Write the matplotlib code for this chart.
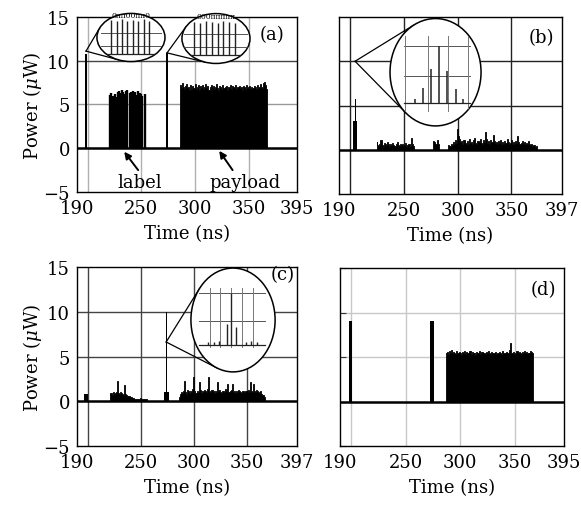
import matplotlib.pyplot as plt
import numpy as np
from matplotlib.patches import Ellipse

plt.rcParams['font.family'] = ['DejaVu Serif']
plt.rcParams['mathtext.fontset'] = 'dejavuserif'

# axis ticks
xticks_ac = [190, 250, 300, 350, 395]
xticks_bc = [190, 250, 300, 350, 397]
xgrid = [200, 250, 300, 350]
yticks = [-5, 0, 5, 10, 15]
ygrid = [5, 10]

# (a) input signal: pulses (start, end, height)
a_pulses = [(196.2, 196.8, 3.2), (197.4, 199.4, 10.8), (272.8, 275.0, 10.9)]
a_label_t0 = 221
a_label_h = [6.1, 6.3, 0, 6.0, 6.2, 5.8, 0, 6.4, 6.5, 0, 6.3, 6.6, 6.4, 0, 6.2, 6.5,
             6.6, 0, 6.3, 6.4, 0, 6.5, 6.2, 6.4, 0, 6.1, 6.5, 0, 6.3, 6.2, 6.0, 0, 6.2]
a_pay_t0 = 286
a_pay_h = [7.2, 6.9, 7.4, 7.0, 6.8, 7.1, 7.3, 6.9, 7.0, 6.7, 7.2, 6.8, 7.1, 6.9, 7.3, 6.8,
           7.0, 7.2, 6.7, 7.1, 6.9, 7.2, 6.8, 7.0, 7.3, 6.9, 7.1, 6.6, 7.0, 7.2, 6.9, 7.1,
           6.8, 7.0, 7.3, 6.9, 6.7, 7.1, 7.0, 6.8, 7.2, 6.9, 7.0, 7.1, 6.7, 7.0, 6.9, 7.2,
           6.8, 7.1, 7.0, 6.9, 7.2, 6.8, 7.0, 7.1, 6.9, 7.0, 6.7, 7.1, 7.0, 6.8, 7.2, 6.9,
           7.0, 7.1, 6.8, 7.0, 6.9, 7.1, 7.0, 6.8, 7.2, 6.9, 7.0, 7.3, 7.0, 6.9, 7.4, 7.6,
           7.2, 6.8]
a_in1_t = [222, 227, 232, 237, 242, 247, 252, 257]
a_in1_h = [14.7, 14.5, 14.8, 14.6, 14.7, 14.5, 14.8, 14.6]
a_in2_t = [299, 304.5, 310, 315.5, 321, 326.5, 332, 337.5]
a_in2_h = [14.4, 14.3, 14.5, 14.4, 14.3, 14.5, 14.4, 14.3]

# (b) output: pulses and residual noise
b_pulses = [(203.0, 207.0, 3.2), (204.5, 206.2, 5.7), (204.6, 204.9, 10.0)]
b_lab_t0 = 225
b_lab_h = [0.9, 0.5, 0.4, 0.6, 1.1, 0.5, 0.4, 0.8, 0.6, 0.5, 0.9, 0.7, 0.4, 0.6, 0.5, 0.8,
           0.5, 0.4, 0.6, 0.9, 0.5, 0.4, 0.7, 0.5, 0.6, 0.4, 0.5, 0.8, 0.4, 0.5, 0.6, 0.4,
           1.3, 0.6, 0.4, 0.3]
b_mid_t0 = 277
b_mid_h = [0.6, 1.0, 0.9, 0.7, 1.1, 0.6, 0.4]
b_pay_t0 = 291
b_pay_h = [0.3, 0.5, 0.4, 0.7, 0.5, 0.9, 0.6, 1.1, 0.8, 2.4, 1.6, 1.2, 0.9, 1.0, 0.7, 1.1,
           0.8, 0.6, 1.0, 0.7, 1.2, 0.8, 0.9, 0.6, 1.1, 1.3, 0.8, 0.7, 1.0, 0.9, 1.2, 0.8,
           0.6, 1.1, 0.9, 2.0, 1.2, 0.8, 1.0, 0.7, 1.1, 0.9, 1.7, 1.0, 0.8, 0.9, 0.6, 1.0,
           0.8, 1.1, 0.7, 0.9, 0.6, 1.0, 0.8, 1.2, 0.9, 0.7, 0.8, 1.1, 0.6, 0.9, 0.7, 1.0,
           0.8, 1.5, 0.9, 0.7, 0.8, 1.0, 0.6, 0.9, 0.7, 0.8, 0.6, 1.0, 0.7, 0.5, 0.6, 0.4,
           0.5, 0.3, 0.4, 0.2]
b_in_t = [260.6, 267.7, 275.1, 282.8, 290.6, 298.4, 305.4]
b_in_h = [5.7, 7.0, 9.1, 11.7, 8.9, 6.85, 5.7]

# (c) output
c_pulses = [(197.0, 200.0, 0.8), (271.5, 277.0, 1.0), (273.5, 274.5, 10.0)]
c_lab_t0 = 221
c_lab_h = [0.8, 0.9, 0.7, 1.0, 0.8, 0.9, 1.0, 2.3, 0.9, 0.8, 1.0, 0.9, 0.8, 0.7, 1.8, 0.8,
           0.7, 0.6, 0.6, 0.5, 0.5, 0.4, 0.4, 0.3, 0.3, 0.3, 0.2, 0.3, 0.3, 0.4, 0.3, 0.3,
           0.3, 0.2, 0.2, 0.1]
c_pay_t0 = 286
c_pay_h = [0.5, 0.8, 1.0, 0.9, 1.2, 2.3, 1.0, 0.8, 1.3, 1.1, 0.9, 1.2, 1.0, 1.4, 2.7, 1.1,
           0.9, 1.2, 1.0, 2.2, 1.3, 0.9, 1.1, 1.0, 1.3, 1.2, 1.0, 1.4, 2.7, 1.2, 1.0, 1.3,
           1.1, 0.9, 1.2, 1.0, 2.2, 1.1, 1.3, 1.0, 0.9, 1.2, 1.1, 1.0, 1.4, 1.2, 1.9, 1.0,
           1.1, 1.3, 1.9, 1.0, 1.2, 0.9, 1.1, 1.0, 1.3, 1.2, 1.0, 0.9, 1.1, 1.2, 1.0, 1.1,
           1.2, 1.3, 1.0, 2.2, 1.1, 1.0, 1.9, 1.2, 1.0, 1.3, 1.1, 1.0, 0.9, 1.1, 0.8, 0.7,
           0.5, 0.3]
c_in_t = [313.0, 318.5, 323.5, 331.0, 335.1, 339.4, 349.0, 354.0, 359.0]
c_in_h = [6.65, 6.6, 6.7, 8.6, 12.06, 8.26, 6.6, 6.7, 6.65]

# (d) output
d_pulses = [(197.8, 200.8, 9.0), (272.6, 275.6, 9.1)]
d_pay_t0 = 287
d_pay_h = [5.4, 5.6, 5.3, 5.7, 5.5, 5.8, 5.4, 5.6, 5.5, 5.3, 5.7, 5.4, 5.6, 5.5, 5.2, 5.6,
           5.5, 5.7, 5.3, 5.6, 5.4, 5.5, 5.7, 5.3, 5.6, 5.4, 5.5, 5.2, 5.6, 5.5, 5.4, 5.7,
           5.3, 5.6, 5.4, 5.5, 5.3, 5.6, 5.4, 5.7, 5.5, 5.3, 5.6, 5.4, 5.5, 5.6, 5.3, 5.5,
           5.4, 5.6, 5.5, 5.3, 5.7, 5.4, 5.5, 5.6, 5.4, 5.5, 5.8, 6.6, 5.5, 5.4, 5.6, 5.3,
           5.5, 5.7, 5.4, 5.6, 5.5, 5.3, 5.6, 5.4, 5.7, 5.5, 5.6, 5.4, 5.5, 5.7, 5.6, 5.4,
           5.5]

FS = 13

fig = plt.figure(figsize=(5.81, 5.10), dpi=100)
axa = fig.add_axes([0.1325, 0.6216, 0.3787, 0.3431])
axb = fig.add_axes([0.5835, 0.6176, 0.3838, 0.3471])
axc = fig.add_axes([0.1325, 0.1235, 0.3787, 0.3510])
axd = fig.add_axes([0.5852, 0.1235, 0.3855, 0.3490])


def setup(ax, xlim, xticks, vcol, hcol, show_y, letter, lx, ly):
    ax.set_xlim(*xlim)
    ax.set_ylim(-5, 15)
    ax.set_xticks(xticks)
    ax.set_xticklabels([str(v) for v in xticks], fontsize=FS)
    ax.set_yticks(yticks)
    if show_y:
        ax.set_yticklabels([str(v).replace('-', '\u2212') for v in yticks], fontsize=FS)
        ax.set_ylabel('Power ($\\mu$W)', fontsize=FS, labelpad=0)
    else:
        ax.set_yticklabels([])
    ax.tick_params(length=0, pad=5)
    ax.set_xlabel('Time (ns)', fontsize=FS, labelpad=5)
    for g in xgrid:
        ax.axvline(g, color=vcol, lw=1.0, zorder=0)
    for g in ygrid:
        ax.axhline(g, color=hcol[g], lw=1.0, zorder=0)
    for s in ax.spines.values():
        s.set_linewidth(1.0)
    ax.axhline(0, color='k', lw=1.8, zorder=2)
    ax.text(lx, ly, letter, transform=ax.transAxes, fontsize=FS, ha='center', va='center', zorder=6)


def trace(ax, pulses, blocks, bar_blocks=()):
    for s, e, h in pulses:
        ax.bar(s, h, width=e - s, align='edge', color='k', lw=0, zorder=3)
    for t0, hs in blocks:
        t = t0 + np.arange(len(hs))
        ax.fill_between(t, 0, hs, step='mid', color='k', lw=0.6, edgecolor='k', zorder=3)
    for t0, hs in bar_blocks:
        t = t0 + np.arange(len(hs))
        ax.vlines(t, 0, hs, color='k', lw=1.7, zorder=3)


def magnifier(ax, cx, cy, w, h, tip):
    ell = Ellipse((cx, cy), w, h, facecolor='white', edgecolor='k', lw=1.1, zorder=7, clip_on=False)
    ax.add_patch(ell)
    # tangent lines from the tip to the ellipse
    pu, pv = (tip[0] - cx) / (w / 2), (tip[1] - cy) / (h / 2)
    d = np.hypot(pu, pv)
    th0 = np.arctan2(pv, pu)
    al = np.arccos(1 / d)
    for th in (th0 + al, th0 - al):
        x = cx + w / 2 * np.cos(th)
        y = cy + h / 2 * np.sin(th)
        ax.plot([tip[0], x], [tip[1], y], color='k', lw=0.9, zorder=6, clip_on=False)
    return ell


def inset_content(ax, ell, xs, hs, base, hlines, vlines, x0, x1, vtop, vbot, lw=1.0):
    for y in hlines:
        ax.plot([x0, x1], [y, y], color='#555555', lw=0.7, zorder=8, clip_path=ell, clip_on=True)
    for x in vlines:
        ax.plot([x, x], [vbot, vtop], color='#777777', lw=0.7, zorder=8, clip_path=ell, clip_on=True)
    ax.plot([x0, x1], [base, base], color='#222222', lw=0.9, zorder=9, clip_path=ell, clip_on=True)
    ax.vlines(xs, base, hs, color='#222222', lw=lw, zorder=9, clip_path=ell)


def pointer(ax, text, head, tail, pos):
    ax.text(pos[0], pos[1], text, fontsize=FS, ha='center', va='center')
    ax.annotate('', xy=head, xytext=tail,
                arrowprops=dict(arrowstyle='-|>', color='k', lw=1.4, shrinkA=0, shrinkB=0,
                                mutation_scale=10))


# ---- (a)
setup(axa, (190, 395), xticks_ac, '#b0b0b0', {5: '#999999', 10: '#444444'}, True, '(a)', 0.886, 0.90)
trace(axa, a_pulses, [(a_pay_t0, a_pay_h)], [(a_label_t0, a_label_h)])
e1 = magnifier(axa, 240.3, 12.66, 63.4, 5.5, (198.4, 11.1))
inset_content(axa, e1, a_in1_t, a_in1_h, 10.8, [13.2, 11.7], [], 212, 268, 15, 10, lw=1.0)
axa.text(240.3, 15.2, '0\u03c0\u03c000\u03c0\u03c00', fontsize=5.5, ha='center', va='center', zorder=10)
e2 = magnifier(axa, 319.5, 12.54, 63.4, 5.7, (273.9, 10.9))
inset_content(axa, e2, a_in2_t, a_in2_h, 10.6, [13.1, 11.6], [], 290, 348, 15, 10, lw=1.0)
axa.text(319.5, 15.15, '000\u03c0\u03c0\u03c0\u03c0\u03c0', fontsize=5.5, ha='center', va='center', zorder=10)
pointer(axa, 'label', (234.0, -0.4), (247.0, -2.5), (248.7, -3.9))
pointer(axa, 'payload', (322.5, -0.3), (335.0, -2.5), (346.6, -3.9))

# ---- (b)
setup(axb, (190, 397), xticks_bc, '#222222', {5: '#222222', 10: '#222222'}, False, '(b)', 0.909, 0.887)
trace(axb, b_pulses, [(b_lab_t0, b_lab_h), (b_mid_t0, b_mid_h), (b_pay_t0, b_pay_h)])
eb = magnifier(axb, 279.6, 8.76, 84.5, 12.13, (204.9, 10.0))
inset_content(axb, eb, b_in_t, b_in_h, 5.28, [11.7, 8.35], [251.3, 272.9, 291.5, 310.0],
              250, 312, 12.8, 4.4, lw=1.1)

# ---- (c)
setup(axc, (190, 397), xticks_bc, '#444444', {5: '#444444', 10: '#444444'}, True, '(c)', 0.936, 0.96)
trace(axc, c_pulses, [(c_lab_t0, c_lab_h), (c_pay_t0, c_pay_h)])
ec = magnifier(axc, 336.8, 9.08, 79.2, 11.6, (273.9, 6.62))
inset_content(axc, ec, c_in_t, c_in_h, 6.29, [12.06, 9.0], [315.5, 324.8, 335.1, 345.0, 355.9],
              304.6, 366.8, 12.7, 6.1, lw=1.0)

# ---- (d)
setup(axd, (190, 395), xticks_ac, '#c8c8c8', {5: '#c8c8c8', 10: '#c8c8c8'}, False, '(d)', 0.906, 0.88)
axd.tick_params(axis='y', direction='in', length=4, color='#333333')
trace(axd, d_pulses, [(d_pay_t0, d_pay_h)])

fig.savefig('out.png', dpi=100)
